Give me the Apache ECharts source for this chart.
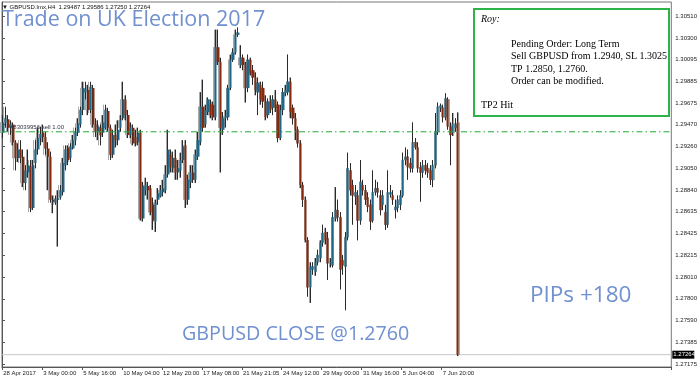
<!DOCTYPE html>
<html><head><meta charset="utf-8">
<script src="https://cdn.jsdelivr.net/npm/echarts@6/dist/echarts.min.js"></script>
<style>html,body{margin:0;padding:0;background:#fff}#c{width:700px;height:380px}</style>
</head><body><div id="c"></div>
<script>
// ---- data ----
const xTickLabels = ['28 Apr 2017','3 May 00:00','5 May 16:00','10 May 04:00','12 May 20:00','17 May 08:00','21 May 21:05','24 May 12:00','29 May 00:00','31 May 16:00','5 Jun 04:00','7 Jun 20:00'];
const yTickValues = [1.30510,1.30300,1.30095,1.29885,1.29675,1.29470,1.29260,1.29050,1.28840,1.28635,1.28425,1.28215,1.28010,1.27800,1.27590,1.27385,1.27175];
const yMin = 1.27146, yMax = 1.30644;
const barSlots = 268;
const orderPrice = 1.2940;
const orderLabel = '#83039956 sell 1.00';
const lastPrice = 1.27264;
// [open, close, low, high]
const ohlc = [
[1.2939,1.2949,1.2934,1.2956],[1.2949,1.2953,1.2944,1.2964],[1.2952,1.2944,1.2940,1.2956],[1.2944,1.2947,1.2937,1.2951],
[1.2947,1.2930,1.2927,1.2949],[1.2930,1.2915,1.2903,1.2932],[1.2915,1.2923,1.2911,1.2929],[1.2923,1.2915,1.2910,1.2932],
[1.2916,1.2891,1.2887,1.2923],[1.2891,1.2903,1.2884,1.2908],[1.2901,1.2908,1.2896,1.2923],[1.2907,1.2867,1.2863,1.2913],
[1.2867,1.2908,1.2865,1.2913],[1.2910,1.2923,1.2905,1.2932],[1.2923,1.2934,1.2918,1.2944],[1.2934,1.2938,1.2927,1.2945],
[1.2939,1.2935,1.2930,1.2947],[1.2935,1.2924,1.2918,1.2940],[1.2924,1.2916,1.2884,1.2930],[1.2916,1.2875,1.2872,1.2921],
[1.2875,1.2873,1.2862,1.2879],[1.2872,1.2876,1.2870,1.2879],[1.2875,1.2876,1.2830,1.2884],[1.2877,1.2884,1.2875,1.2889],
[1.2882,1.2910,1.2879,1.2915],[1.2908,1.2923,1.2903,1.2927],[1.2925,1.2913,1.2908,1.2927],[1.2915,1.2926,1.2911,1.2929],
[1.2924,1.2932,1.2923,1.2937],[1.2932,1.2940,1.2927,1.2944],[1.2939,1.2948,1.2936,1.2953],[1.2947,1.2961,1.2944,1.2964],
[1.2961,1.2982,1.2956,1.2988],[1.2978,1.2981,1.2971,1.2988],[1.2980,1.2961,1.2956,1.2985],[1.2961,1.2983,1.2958,1.2988],
[1.2982,1.2947,1.2944,1.2985],[1.2947,1.2940,1.2935,1.2953],[1.2940,1.2945,1.2932,1.2951],[1.2944,1.2937,1.2927,1.2947],
[1.2939,1.2949,1.2935,1.2956],[1.2944,1.2961,1.2942,1.2966],[1.2960,1.2944,1.2940,1.2963],[1.2944,1.2918,1.2913,1.2947],
[1.2918,1.2937,1.2915,1.2942],[1.2937,1.2932,1.2925,1.2947],[1.2932,1.2942,1.2927,1.2951],[1.2944,1.2951,1.2940,1.2956],
[1.2953,1.2971,1.2951,1.2988],[1.2971,1.2956,1.2951,1.2975],[1.2956,1.2937,1.2934,1.2961],[1.2937,1.2944,1.2934,1.2949],
[1.2944,1.2929,1.2927,1.2947],[1.2935,1.2929,1.2926,1.2942],[1.2930,1.2939,1.2927,1.2944],[1.2939,1.2857,1.2855,1.2942],
[1.2857,1.2888,1.2854,1.2892],[1.2884,1.2889,1.2879,1.2896],[1.2888,1.2884,1.2875,1.2892],[1.2886,1.2863,1.2860,1.2889],
[1.2870,1.2855,1.2846,1.2877],[1.2854,1.2872,1.2844,1.2875],[1.2875,1.2881,1.2870,1.2886],[1.2878,1.2884,1.2877,1.2889],
[1.2882,1.2886,1.2878,1.2894],[1.2884,1.2899,1.2881,1.2908],[1.2899,1.2923,1.2896,1.2942],[1.2918,1.2906,1.2901,1.2923],
[1.2905,1.2915,1.2901,1.2921],[1.2915,1.2901,1.2894,1.2923],[1.2901,1.2905,1.2894,1.2913],[1.2903,1.2913,1.2896,1.2920],
[1.2913,1.2926,1.2910,1.2932],[1.2927,1.2875,1.2867,1.2932],[1.2875,1.2894,1.2870,1.2899],[1.2892,1.2901,1.2886,1.2908],
[1.2901,1.2894,1.2891,1.2908],[1.2894,1.2918,1.2891,1.2923],[1.2916,1.2932,1.2913,1.2940],[1.2930,1.2964,1.2927,1.2978],
[1.2964,1.2944,1.2940,1.2990],[1.2947,1.2961,1.2944,1.2966],[1.2959,1.2971,1.2956,1.2973],[1.2967,1.2956,1.2953,1.2971],
[1.2966,1.2954,1.2951,1.2969],[1.2954,1.3021,1.2951,1.3038],[1.3021,1.3007,1.3004,1.3038],[1.3007,1.2944,1.2901,1.3011],
[1.2942,1.2953,1.2937,1.2959],[1.2953,1.2955,1.2944,1.2961],[1.2954,1.2982,1.2951,1.2985],[1.2982,1.3009,1.2980,1.3014],
[1.3009,1.3016,1.3007,1.3020],[1.3016,1.3033,1.3014,1.3038],[1.3033,1.3035,1.3031,1.3040],[1.3004,1.3011,1.3001,1.3023],
[1.3011,1.3004,1.2999,1.3014],[1.3004,1.2982,1.2968,1.3007],[1.2982,1.3009,1.2978,1.3014],[1.3009,1.2996,1.2994,1.3011],
[1.2999,1.2992,1.2985,1.3004],[1.2992,1.2980,1.2975,1.2997],[1.2978,1.2987,1.2956,1.2992],[1.2985,1.2971,1.2966,1.2988],
[1.2982,1.2969,1.2963,1.2988],[1.2969,1.2954,1.2951,1.2975],[1.2956,1.2969,1.2953,1.2972],[1.2969,1.2961,1.2958,1.2975],
[1.2963,1.2971,1.2956,1.2975],[1.2971,1.2963,1.2959,1.2980],[1.2966,1.2934,1.2930,1.2969],[1.2934,1.2961,1.2932,1.2966],
[1.2961,1.2978,1.2956,1.2982],[1.2977,1.2980,1.2974,1.2985],[1.2978,1.2988,1.2975,1.3014],[1.2988,1.2959,1.2953,1.2992],
[1.2963,1.2953,1.2947,1.2966],[1.2953,1.2942,1.2932,1.2958],[1.2942,1.2929,1.2925,1.2945],[1.2929,1.2889,1.2886,1.2932],
[1.2889,1.2875,1.2868,1.2892],[1.2875,1.2836,1.2834,1.2878],[1.2836,1.2791,1.2782,1.2839],[1.2791,1.2811,1.2776,1.2815],
[1.2808,1.2811,1.2803,1.2815],[1.2806,1.2815,1.2802,1.2819],[1.2815,1.2822,1.2812,1.2827],[1.2819,1.2834,1.2815,1.2836],
[1.2834,1.2843,1.2830,1.2851],[1.2844,1.2836,1.2832,1.2848],[1.2838,1.2814,1.2798,1.2844],[1.2814,1.2815,1.2810,1.2819],
[1.2812,1.2858,1.2810,1.2863],[1.2857,1.2865,1.2854,1.2887],[1.2865,1.2858,1.2854,1.2875],[1.2858,1.2808,1.2789,1.2863],
[1.2817,1.2812,1.2803,1.2822],[1.2811,1.2839,1.2769,1.2844],[1.2839,1.2905,1.2836,1.2920],[1.2903,1.2884,1.2879,1.2910],
[1.2889,1.2879,1.2851,1.2894],[1.2878,1.2882,1.2870,1.2889],[1.2879,1.2855,1.2836,1.2884],[1.2855,1.2892,1.2851,1.2913],
[1.2889,1.2884,1.2879,1.2894],[1.2884,1.2875,1.2870,1.2889],[1.2877,1.2868,1.2863,1.2882],[1.2870,1.2854,1.2846,1.2875],
[1.2855,1.2882,1.2853,1.2903],[1.2882,1.2886,1.2879,1.2894],[1.2886,1.2882,1.2877,1.2892],[1.2879,1.2865,1.2860,1.2884],
[1.2870,1.2879,1.2865,1.2884],[1.2863,1.2851,1.2846,1.2870],[1.2851,1.2882,1.2848,1.2903],[1.2880,1.2882,1.2877,1.2889],
[1.2879,1.2875,1.2870,1.2884],[1.2865,1.2868,1.2857,1.2875],[1.2867,1.2875,1.2863,1.2879],[1.2870,1.2879,1.2865,1.2884],
[1.2879,1.2913,1.2877,1.2920],[1.2913,1.2916,1.2908,1.2925],[1.2916,1.2906,1.2894,1.2923],[1.2910,1.2905,1.2901,1.2915],
[1.2905,1.2930,1.2901,1.2949],[1.2930,1.2925,1.2923,1.2934],[1.2925,1.2905,1.2901,1.2930],[1.2906,1.2901,1.2873,1.2911],
[1.2901,1.2908,1.2896,1.2913],[1.2908,1.2903,1.2899,1.2913],[1.2905,1.2901,1.2896,1.2910],[1.2903,1.2894,1.2889,1.2908],
[1.2894,1.2908,1.2887,1.2913],[1.2908,1.2940,1.2905,1.2958],[1.2940,1.2964,1.2937,1.2968],[1.2963,1.2965,1.2959,1.2967],
[1.2963,1.2954,1.2949,1.2966],[1.2954,1.2972,1.2951,1.2977],[1.2971,1.2945,1.2942,1.2973],[1.2945,1.2937,1.2908,1.2949],
[1.2939,1.2948,1.2936,1.2958],[1.2944,1.2947,1.2940,1.2953],[1.29487,1.27264,1.27250,1.29586]
];

// ---- chart ----
const cats = Array.from({length: barSlots}, (_, i) => String(i));
const showTick = (i) => i % 16 === 0 && (i / 16) < xTickLabels.length;
const chart = echarts.init(document.getElementById('c'), null, {renderer: 'canvas'});
const small = 'Liberation Sans';
const blueTxt = '#7090cf';
chart.setOption({
  animation: false,
  backgroundColor: '#ffffff',
  grid: [
    {left: 2, right: 25, top: 2, bottom: 13, show: true, borderColor: '#777', borderWidth: 1},
    {left: 0, right: 27, top: 2, bottom: 13, show: false}
  ],
  xAxis: [
    {type: 'category', gridIndex: 0, data: cats, boundaryGap: true,
     axisLine: {show: true, lineStyle: {color: '#555'}},
     axisTick: {show: true, interval: showTick, length: 3, lineStyle: {color: '#555'}},
     axisLabel: {show: true, interval: showTick, formatter: (v, i) => xTickLabels[i / 16] || '',
       fontSize: 6, fontFamily: small, color: '#222', align: 'left', margin: 3},
     splitLine: {show: false}},
    {type: 'category', gridIndex: 1, data: cats, boundaryGap: true, show: false},
    {type: 'value', gridIndex: 0, min: 0, max: 1, show: false, splitLine: {show: false}}
  ],
  yAxis: [
    {type: 'value', gridIndex: 0, position: 'right', min: yMin, max: yMax,
     axisLine: {show: true, lineStyle: {color: '#555'}},
     axisTick: {show: true, customValues: yTickValues, length: 3, lineStyle: {color: '#555'}},
     axisLabel: {customValues: yTickValues, formatter: v => v.toFixed(5), fontSize: 6, fontFamily: small, color: '#222', margin: 4},
     splitLine: {show: false}},
    {type: 'value', gridIndex: 1, min: yMin, max: yMax, show: false, splitLine: {show: false}}
  ],
  series: [
    // last price line
    {type: 'line', xAxisIndex: 2, yAxisIndex: 0, data: [[0, lastPrice], [1, lastPrice]], symbol: 'none', silent: true, z: 0,
     lineStyle: {color: '#c8c8c8', width: 1, type: 'solid'}},
    // faint offset shadow of each candle
    {type: 'candlestick', xAxisIndex: 1, yAxisIndex: 1, data: ohlc, barWidth: 2.2, z: 1, silent: true,
     itemStyle: {color: '#b4b4b4', color0: '#b4b4b4', borderColor: '#a8a8a8', borderColor0: '#a8a8a8', borderWidth: 1}},
    // wicks
    {type: 'candlestick', xAxisIndex: 0, yAxisIndex: 0, data: ohlc, barWidth: 1, z: 2, silent: true,
     itemStyle: {color: '#2a2a2a', color0: '#2a2a2a', borderColor: '#2a2a2a', borderColor0: '#2a2a2a', borderWidth: 1}},
    // bodies
    {type: 'candlestick', xAxisIndex: 0, yAxisIndex: 0, data: ohlc, barWidth: 2.6, z: 3, silent: true,
     itemStyle: {color: '#1d6889', color0: '#862a0f', borderColor: '#1d6889', borderColor0: '#862a0f', borderWidth: 0}},
    // pending order line
    {type: 'line', xAxisIndex: 2, yAxisIndex: 0, data: [[0, orderPrice], [1, orderPrice]], symbol: 'none', silent: true, z: 4,
     lineStyle: {color: '#22a833', width: 1, type: [6, 3, 1.5, 3]}}
  ]
});
// labels tied to price levels through the axis scale
const yOrder = chart.convertToPixel({yAxisIndex: 0}, orderPrice);
const yLast = chart.convertToPixel({yAxisIndex: 0}, lastPrice);
const xRight = chart.convertToPixel({xAxisIndex: 2}, 1);
const serif = 'Liberation Serif';
chart.setOption({graphic: [
  {type: 'text', x: 2, y: 7, z: 10, style: {text: '\u25BC GBPUSD.lmx,H4  1.29487 1.29586 1.27250 1.27264', fill: '#111', fontSize: 6, fontFamily: small, verticalAlign: 'middle'}},
  {type: 'text', x: 2, y: 20, z: 10, style: {text: 'Trade on UK Election 2017', fill: blueTxt, fontSize: 21.5, fontFamily: 'Open Sans', verticalAlign: 'middle'}},
  {type: 'text', x: 182, y: 334, z: 10, style: {text: 'GBPUSD CLOSE @1.2760', fill: blueTxt, fontSize: 19.7, fontFamily: 'Open Sans', verticalAlign: 'middle'}},
  {type: 'text', x: 530, y: 296, z: 10, style: {text: 'PIPs +180', fill: blueTxt, fontSize: 22.5, fontFamily: 'Open Sans', verticalAlign: 'middle'}},
  {type: 'rect', z: 10, shape: {x: 474, y: 9, width: 195, height: 107}, style: {fill: '#fff', stroke: '#2db34a', lineWidth: 2}},
  {type: 'text', x: 481, y: 19, z: 11, style: {text: 'Roy:', fill: '#000', fontSize: 10, fontStyle: 'italic', fontFamily: serif, verticalAlign: 'middle'}},
  {type: 'text', x: 511, y: 44, z: 11, style: {text: 'Pending Order: Long Term', fill: '#000', fontSize: 10, fontFamily: serif, verticalAlign: 'middle'}},
  {type: 'text', x: 511, y: 56.5, z: 11, style: {text: 'Sell GBPUSD from 1.2940, SL 1.3025', fill: '#000', fontSize: 10, fontFamily: serif, verticalAlign: 'middle'}},
  {type: 'text', x: 511, y: 69, z: 11, style: {text: 'TP 1.2850, 1.2760.', fill: '#000', fontSize: 10, fontFamily: serif, verticalAlign: 'middle'}},
  {type: 'text', x: 511, y: 81.5, z: 11, style: {text: 'Order can be modified.', fill: '#000', fontSize: 10, fontFamily: serif, verticalAlign: 'middle'}},
  {type: 'text', x: 481, y: 105, z: 11, style: {text: 'TP2 Hit', fill: '#000', fontSize: 10, fontFamily: serif, verticalAlign: 'middle'}},
  {type: 'text', x: 10, y: yOrder - 4, z: 12, style: {text: orderLabel, fill: '#334', fontSize: 6, fontFamily: small, verticalAlign: 'middle'}},
  {type: 'rect', z: 12, shape: {x: xRight + 1, y: yLast - 4, width: 22, height: 8}, style: {fill: '#000'}},
  {type: 'text', x: xRight + 2, y: yLast, z: 13, style: {text: lastPrice.toFixed(5), fill: '#fff', fontSize: 6, fontFamily: small, verticalAlign: 'middle'}}
]});
</script>
</body></html>
